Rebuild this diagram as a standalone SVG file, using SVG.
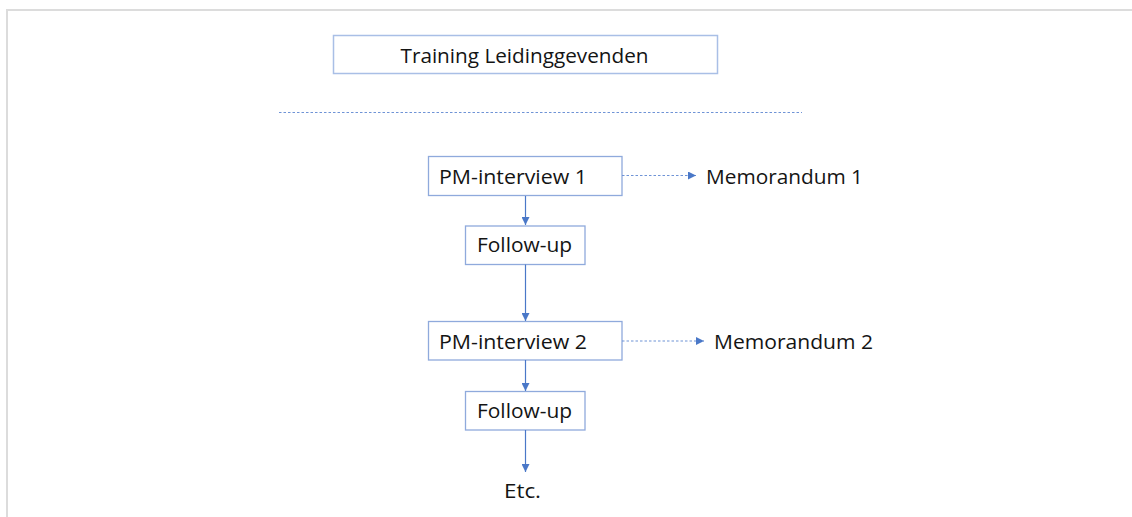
<svg xmlns="http://www.w3.org/2000/svg" width="1132" height="517" viewBox="0 0 1132 517">
  <defs>
    <style>
      .box { fill: #ffffff; stroke: #8faadc; stroke-width: 1.3; }
      .title-box { fill: #ffffff; stroke: #a9bfe6; stroke-width: 1.5; }
      .lbl { font-family: "Open Sans", "Liberation Sans", sans-serif; font-size: 20px; fill: #141414; }
      .flow { stroke: #4a78c8; stroke-width: 1.2; fill: none; }
      .dotted { stroke: #6f93d6; stroke-width: 1.2; stroke-dasharray: 2.5 2; fill: none; }
      .frame { stroke: #dcdcdc; stroke-width: 2; fill: none; }
    </style>
    <marker id="arrow" viewBox="0 0 8 8" refX="8" refY="4" markerWidth="8" markerHeight="8" markerUnits="userSpaceOnUse" orient="auto">
      <path d="M0,0 L8,4 L0,8 Z" fill="#4a78c8"/>
    </marker>
  </defs>

  <rect width="1132" height="517" fill="#ffffff"/>

  <!-- page frame -->
  <path class="frame" d="M7,517 L7,10 L1132,10"/>

  <g id="title">
    <rect class="title-box" x="333.5" y="35.5" width="384" height="38"/>
    <text class="lbl" x="400.5" y="63" textLength="248" lengthAdjust="spacingAndGlyphs">Training Leidinggevenden</text>
  </g>

  <!-- separator -->
  <line class="dotted" x1="279" y1="112.5" x2="802" y2="112.5" stroke="#a9bfe6"/>

  <g id="pm1">
    <rect class="box" x="428.5" y="156.5" width="193.5" height="39"/>
    <text class="lbl" x="439" y="183.5" textLength="148" lengthAdjust="spacingAndGlyphs">PM-interview 1</text>
  </g>

  <g id="memo1">
    <text class="lbl" x="706" y="183.5" textLength="157" lengthAdjust="spacingAndGlyphs">Memorandum 1</text>
  </g>

  <g id="followup1">
    <rect class="box" x="465.5" y="226" width="119.5" height="38.5"/>
    <text class="lbl" x="477" y="251.5" textLength="95" lengthAdjust="spacingAndGlyphs">Follow-up</text>
  </g>

  <g id="pm2">
    <rect class="box" x="428.5" y="321.5" width="193.5" height="38.5"/>
    <text class="lbl" x="439" y="349" textLength="148" lengthAdjust="spacingAndGlyphs">PM-interview 2</text>
  </g>

  <g id="memo2">
    <text class="lbl" x="714" y="349" textLength="159" lengthAdjust="spacingAndGlyphs">Memorandum 2</text>
  </g>

  <g id="followup2">
    <rect class="box" x="465.5" y="391.5" width="119.5" height="38.5"/>
    <text class="lbl" x="477" y="417.5" textLength="95" lengthAdjust="spacingAndGlyphs">Follow-up</text>
  </g>

  <g id="etc">
    <text class="lbl" x="504" y="498" textLength="37" lengthAdjust="spacingAndGlyphs">Etc.</text>
  </g>

  <g id="connectors">
    <line class="flow" x1="525.5" y1="196" x2="525.5" y2="225" marker-end="url(#arrow)"/>
    <line class="flow" x1="525.5" y1="264.5" x2="525.5" y2="321" marker-end="url(#arrow)"/>
    <line class="flow" x1="525.5" y1="360" x2="525.5" y2="391" marker-end="url(#arrow)"/>
    <line class="flow" x1="525.5" y1="430" x2="525.5" y2="472" marker-end="url(#arrow)"/>
    <line class="dotted" x1="622" y1="175.5" x2="696" y2="175.5" marker-end="url(#arrow)"/>
    <line class="dotted" x1="622" y1="341" x2="704" y2="341" marker-end="url(#arrow)"/>
  </g>
</svg>
